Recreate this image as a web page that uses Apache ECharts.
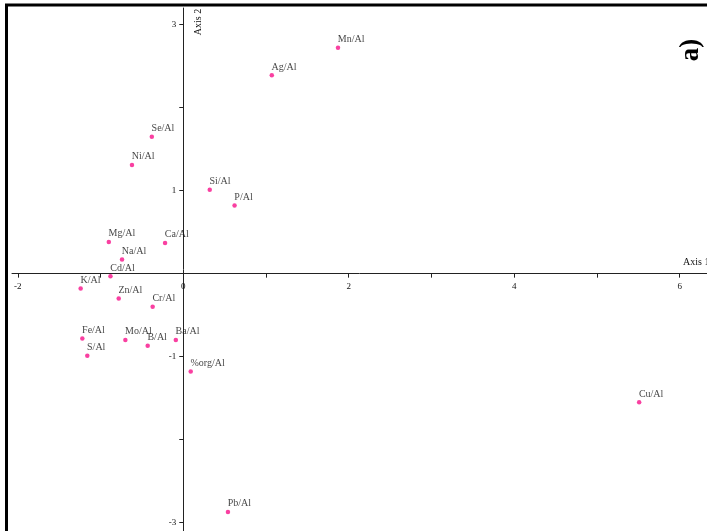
<!DOCTYPE html>
<html>
<head>
<meta charset="UTF-8">
<title>Axis 1 / Axis 2</title>
<script src="https://cdn.jsdelivr.net/npm/echarts@6/dist/echarts.min.js"></script>
<style>
  html, body { margin: 0; padding: 0; background: #fff; }
  #chart { width: 707px; height: 531px; }
</style>
</head>
<body>
<div id="chart"></div>
<script type="text/javascript">
  // ratio names and their scores on axis 1 / axis 2
  var names = ['Mn/Al', 'Ag/Al', 'Se/Al', 'Ni/Al', 'Si/Al', 'P/Al', 'Mg/Al', 'Ca/Al', 'Na/Al', 'Cd/Al',
               'K/Al', 'Zn/Al', 'Cr/Al', 'Fe/Al', 'Mo/Al', 'Ba/Al', 'B/Al', 'S/Al', '%org/Al', 'Cu/Al', 'Pb/Al'];
  var axis1 = [1.87, 1.07, -0.38, -0.62, 0.32, 0.62, -0.90, -0.22, -0.74, -0.88,
               -1.24, -0.78, -0.37, -1.22, -0.70, -0.09, -0.43, -1.16, 0.09, 5.51, 0.54];
  var axis2 = [2.72, 2.39, 1.65, 1.31, 1.01, 0.82, 0.38, 0.37, 0.17, -0.03,
               -0.18, -0.30, -0.40, -0.78, -0.80, -0.80, -0.87, -0.99, -1.18, -1.55, -2.87];

  var xTicks = [-2, -1, 0, 1, 2, 3, 4, 5, 6];
  var xLabels = [-2, 0, 2, 4, 6];
  var yTicks = [-3, -2, -1, 0, 1, 2, 3];
  var yLabels = [-3, -1, 1, 3];

  var points = [];
  for (var i = 0; i < names.length; i++) {
    points.push([axis1[i], axis2[i], names[i]]);
  }

  var serif = 'Liberation Serif';
  var ink = '#111';

  // plot box (pixels) and axis ranges
  var W = 707, H = 531;
  var gLeft = 12, gTop = 8;
  var xMin = -2.07, xMax = 6.33, yMin = -3.1, yMax = 3.2;
  // pull each axis in from the grid edge to the origin
  var xAxisOffset = -(H - gTop) * (0 - yMin) / (yMax - yMin);
  var yAxisOffset = -(W - gLeft) * (0 - xMin) / (xMax - xMin);

  var myChart = echarts.init(document.getElementById('chart'), null, { renderer: 'canvas' });

  var option = {
    animation: false,
    backgroundColor: '#fff',
    grid: { left: gLeft, right: 0, top: gTop, bottom: 0, containLabel: false, outerBoundsMode: 'none' },
    xAxis: {
      type: 'value',
      min: xMin,
      max: xMax,
      position: 'bottom',
      offset: xAxisOffset,
      splitLine: { show: false },
      axisLine: { onZero: false, lineStyle: { color: '#222', width: 1 } },
      axisTick: { show: true, length: 4, customValues: xTicks, lineStyle: { color: '#222' } },
      axisLabel: { customValues: xLabels, margin: 8, color: ink, fontFamily: serif, fontSize: 9, hideOverlap: false }
    },
    yAxis: {
      type: 'value',
      min: yMin,
      max: yMax,
      position: 'left',
      offset: yAxisOffset,
      splitLine: { show: false },
      axisLine: { onZero: false, lineStyle: { color: '#222', width: 1 } },
      axisTick: { show: true, length: 4, customValues: yTicks, lineStyle: { color: '#222' } },
      axisLabel: { customValues: yLabels, margin: 7, color: ink, fontFamily: serif, fontSize: 9, hideOverlap: false }
    },
    series: [{
      type: 'scatter',
      data: points,
      symbol: 'circle',
      symbolSize: 4.5,
      itemStyle: { color: '#f8108a' },
      label: {
        show: true,
        formatter: function (p) { return p.data[2]; },
        position: [2, -1],
        align: 'left',
        verticalAlign: 'bottom',
        color: ink,
        fontFamily: serif,
        fontSize: 10
      }
    }],
    graphic: [
      // frame, only the left and top edges are visible
      {
        type: 'rect',
        shape: { x: 6.5, y: 5, width: 760, height: 580 },
        style: { fill: 'none', stroke: '#000', lineWidth: 3 },
        silent: true
      },
      {
        type: 'text',
        x: 198, y: 22, rotation: Math.PI / 2,
        style: { text: 'Axis 2', fill: ink, font: '10px "Liberation Serif"', align: 'center', verticalAlign: 'middle' }
      },
      {
        type: 'text',
        x: 683, y: 262,
        style: { text: 'Axis 1', fill: ink, font: '10px "Liberation Serif"', align: 'left', verticalAlign: 'middle' }
      },
      {
        type: 'text',
        x: 691, y: 50, rotation: Math.PI / 2,
        style: { text: 'a)', fill: '#000', font: 'bold 27px "Liberation Serif"', align: 'center', verticalAlign: 'middle' }
      }
    ]
  };

  myChart.setOption(option);
</script>
</body>
</html>
